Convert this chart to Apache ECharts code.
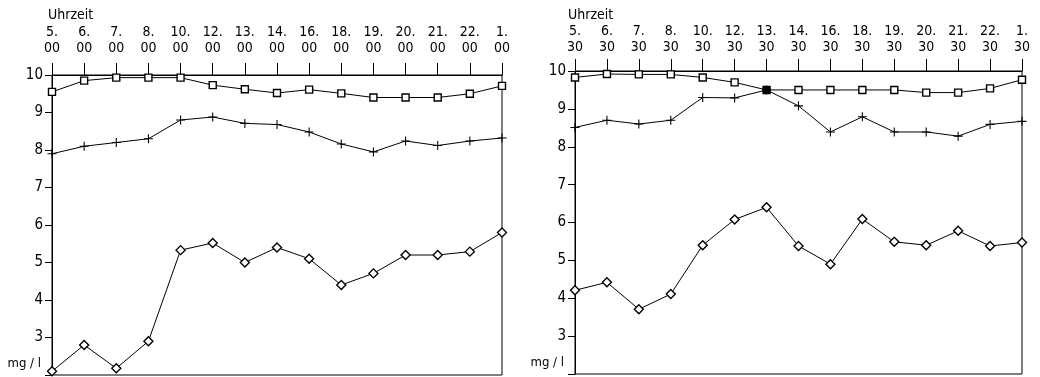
<!DOCTYPE html>
<html>
<head>
<meta charset="utf-8">
<script src="https://cdn.jsdelivr.net/npm/echarts@6/dist/echarts.min.js"></script>
<style>
  html, body { margin: 0; padding: 0; background: #fff; }
  #chart { width: 1040px; height: 377px; }
</style>
</head>
<body>
<div id="chart"></div>
<script>
// Uhrzeit (Stunde) der Messungen
const hoursLeft = ["5", "6", "7", "8", "10", "12", "13", "14", "16", "18", "19", "20", "21", "22", "1"];
const hoursRight = ["5", "6", "7", "8", "10", "12", "13", "14", "16", "18", "19", "20", "21", "22", "1"];
const minuteLeft = "00";
const minuteRight = "30";

// linkes Diagramm (mg/l)
const squareLeft = [9.55, 9.85, 9.93, 9.93, 9.93, 9.73, 9.62, 9.52, 9.61, 9.51, 9.4, 9.4, 9.4, 9.5, 9.71];
const plusLeft = [7.9, 8.1, 8.2, 8.3, 8.8, 8.88, 8.71, 8.68, 8.48, 8.16, 7.95, 8.24, 8.12, 8.24, 8.32];
const diamondLeft = [2.1, 2.8, 2.18, 2.9, 5.33, 5.52, 5.0, 5.4, 5.1, 4.4, 4.71, 5.2, 5.2, 5.29, 5.8];

// rechtes Diagramm (mg/l)
const squareRight = [9.83, 9.92, 9.91, 9.91, 9.83, 9.7, 9.5, 9.5, 9.5, 9.5, 9.5, 9.43, 9.43, 9.54, 9.77];
const plusRight = [8.51, 8.7, 8.6, 8.7, 9.3, 9.29, 9.5, 9.08, 8.39, 8.79, 8.39, 8.39, 8.28, 8.59, 8.67];
const diamondRight = [4.21, 4.42, 3.71, 4.11, 5.4, 6.08, 6.4, 5.38, 4.9, 6.09, 5.49, 5.4, 5.78, 5.38, 5.47];

const FONT = "DejaVu Sans Condensed";
const plusPath = "path://M4.4,0L5.6,0L5.6,4.4L10,4.4L10,5.6L5.6,5.6L5.6,10L4.4,10L4.4,5.6L0,5.6L0,4.4L4.4,4.4Z";

const chart = echarts.init(document.getElementById("chart"));

const xAxisFor = (idx, hours, minute, margin) => ({
  type: "category",
  gridIndex: idx,
  position: "top",
  boundaryGap: false,
  data: hours.map((h) => h + ".\n" + minute),
  axisLine: { show: true, lineStyle: { color: "#000", width: 1 } },
  axisTick: { show: true, length: 12, lineStyle: { color: "#000" } },
  axisLabel: {
    color: "#000",
    fontFamily: FONT,
    fontSize: 14,
    lineHeight: 16,
    margin: margin,
    interval: 0,
  },
  splitLine: { show: false },
});

const yAxisFor = (idx) => ({
  type: "value",
  gridIndex: idx,
  min: 2,
  max: 10,
  interval: 1,
  axisLine: { show: true, lineStyle: { color: "#000", width: 1 } },
  axisTick: { show: true, length: 7, lineStyle: { color: "#000" } },
  axisLabel: {
    color: "#000",
    fontFamily: FONT,
    fontSize: 15,
    margin: 9,
    formatter: (v) => (v === 2 ? "{u|mg / l}" : String(v)),
    rich: { u: { fontFamily: FONT, fontSize: 13, padding: [0, 2, 22, 0] } },
  },
  splitLine: { show: false },
});

const lineSeries = (idx, data, symbol, size, fill, border, other) => ({
  type: "line",
  xAxisIndex: idx,
  yAxisIndex: idx,
  data: data.map((v, i) => {
    // wo Quadrat und Kreuz zusammenfallen, ist das Quadrat gefüllt
    if (other && Math.abs(other[i] - v) < 0.05) {
      return { value: v, itemStyle: { color: "#000" } };
    }
    return v;
  }),
  symbol: symbol,
  symbolSize: size,
  showAllSymbol: true,
  lineStyle: { color: "#000", width: 1 },
  itemStyle: { color: fill, borderColor: "#000", borderWidth: border },
  emphasis: { disabled: true },
  animation: false,
  z: 3,
});

chart.setOption({
  backgroundColor: "#fff",
  animation: false,
  title: [
    { text: "Uhrzeit", left: 43, top: 3, textStyle: { fontFamily: FONT, fontSize: 14, fontWeight: "normal", color: "#000" } },
    { text: "Uhrzeit", left: 563, top: 3, textStyle: { fontFamily: FONT, fontSize: 14, fontWeight: "normal", color: "#000" } },
  ],
  grid: [
    { left: 52, top: 75, width: 450, bottom: 2, show: true, borderColor: "#000", borderWidth: 1, backgroundColor: "transparent" },
    { left: 575, top: 71, width: 447, bottom: 3, show: true, borderColor: "#000", borderWidth: 1, backgroundColor: "transparent" },
  ],
  xAxis: [
    xAxisFor(0, hoursLeft, minuteLeft, 19),
    xAxisFor(1, hoursRight, minuteRight, 16),
  ],
  yAxis: [yAxisFor(0), yAxisFor(1)],
  series: [
    lineSeries(0, squareLeft, "rect", 7, "#fff", 1.4),
    lineSeries(0, plusLeft, plusPath, 9, "#000", 0),
    lineSeries(0, diamondLeft, "diamond", 9, "#fff", 1.4),
    lineSeries(1, squareRight, "rect", 7, "#fff", 1.4, plusRight),
    lineSeries(1, plusRight, plusPath, 9, "#000", 0),
    lineSeries(1, diamondRight, "diamond", 9, "#fff", 1.4),
  ],
});
</script>
</body>
</html>
